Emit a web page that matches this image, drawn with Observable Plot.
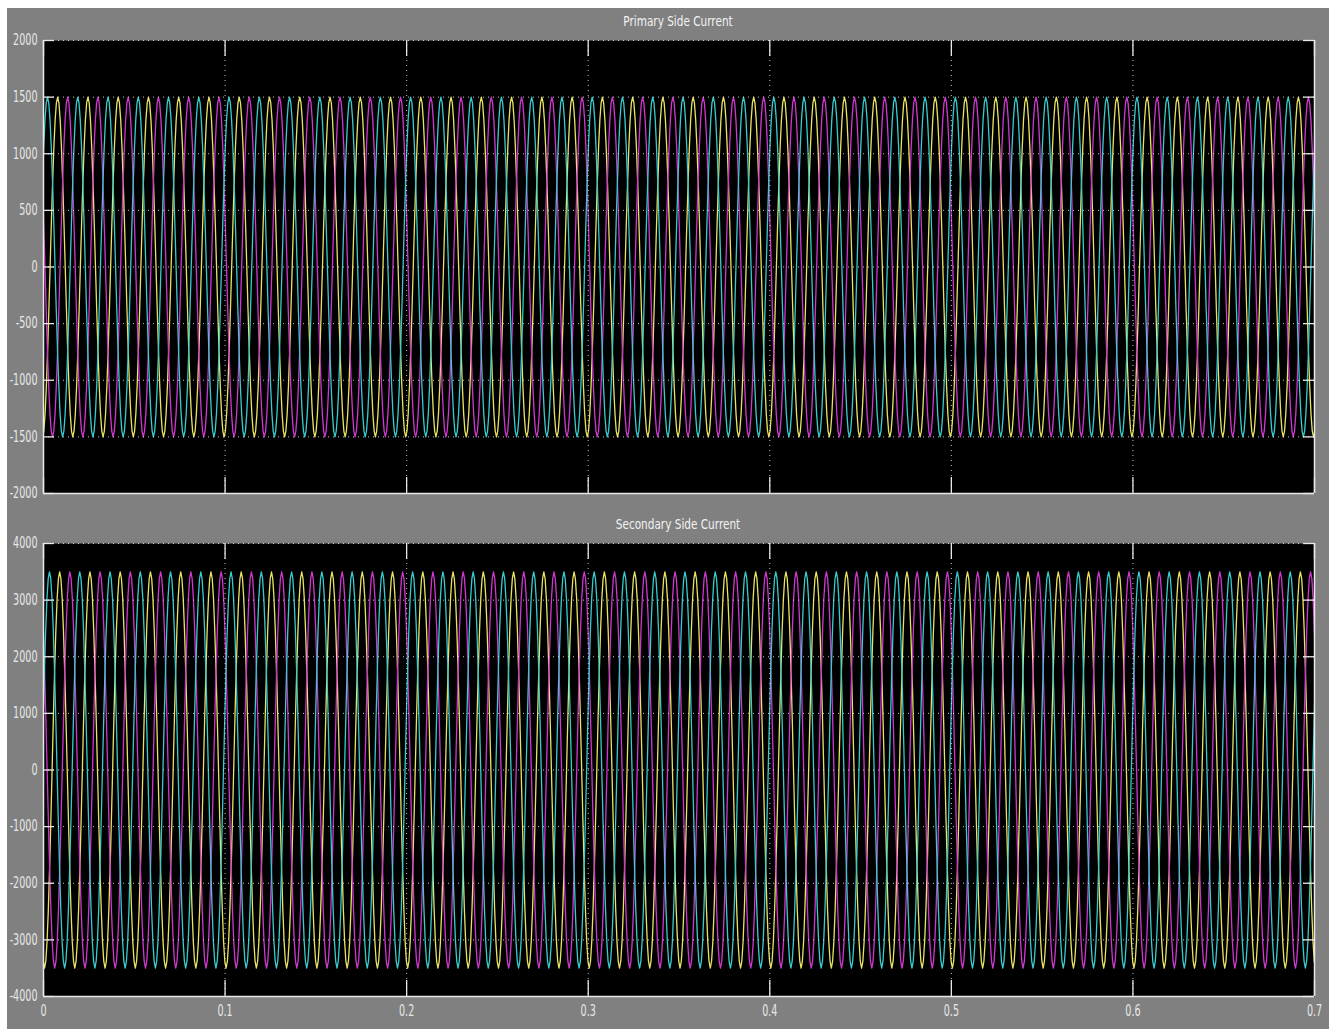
<!DOCTYPE html>
<html>
<head>
<meta charset="utf-8">
<script src="https://cdn.jsdelivr.net/npm/d3@7"></script>
<script src="https://cdn.jsdelivr.net/npm/@observablehq/plot@0.6"></script>
<style>
  html, body { margin: 0; padding: 0; background: #ffffff; width: 1336px; height: 1029px; overflow: hidden; }
  #bg { position: absolute; left: 7px; top: 8px; width: 1322px; height: 1021px; background: #808080; }
  .title { position: absolute; left: 0; width: 1356px; text-align: center; color: #f2f2f2;
           font-family: "DejaVu Sans", sans-serif; font-size: 14px;
           transform: scaleX(0.75); transform-origin: 678px 0; }
  .panel { position: absolute; left: 0; }
</style>
</head>
<body>
<div id="bg"></div>
<div class="title" style="top:13px">Primary Side Current</div>
<div class="title" style="top:516px">Secondary Side Current</div>
<div class="panel" id="p1" style="top:0px"></div>
<div class="panel" id="p2" style="top:500px"></div>
<script>
// ---------------- data ----------------
const xDomain = [0, 0.7];
const xTicks = [0, 0.1, 0.2, 0.3, 0.4, 0.5, 0.6, 0.7];
const xTickLabels = ["0", "0.1", "0.2", "0.3", "0.4", "0.5", "0.6", "0.7"];

const primaryDomain = [-2000, 2000];
const primaryTicks = [-2000, -1500, -1000, -500, 0, 500, 1000, 1500, 2000];
const secondaryDomain = [-4000, 4000];
const secondaryTicks = [-4000, -3000, -2000, -1000, 0, 1000, 2000, 3000, 4000];

const phaseNames = ["Phase A", "Phase B", "Phase C"];
const frequencyHz = 60;                          // 6 cycles per 0.1 s
const primaryPeakAmps = [1500, 1500, 1500];
const secondaryPeakAmps = [3500, 3500, 3500];
const primaryFirstPeak = [0.0078, 0.0133, 0.0022];   // time of first positive peak (s)
const secondaryFirstPeak = [0.0089, 0.0145, 0.0033];
// one cycle of the waveform, normalised to its peak, 24 samples starting at the peak
const unitCycle = [1, 0.966, 0.866, 0.707, 0.5, 0.259, 0, -0.259, -0.5, -0.707, -0.866, -0.966,
                   -1, -0.966, -0.866, -0.707, -0.5, -0.259, 0, 0.259, 0.5, 0.707, 0.866, 0.966];

// ---------------- build tables ----------------
function buildSeries(peaks, firstPeaks) {
  const rows = [];
  const T = 1 / frequencyHz;
  const n = unitCycle.length;
  phaseNames.forEach((ph, p) => {
    const startCycle = Math.floor((xDomain[0] - firstPeaks[p]) / T) - 1;
    for (let c = startCycle; ; c++) {
      let done = false;
      for (let i = 0; i < n; i++) {
        const t = firstPeaks[p] + (c + i / n) * T;
        rows.push({t, v: peaks[p] * unitCycle[i], phase: ph});
        if (t > xDomain[1] + T) done = true;
      }
      if (done) break;
    }
  });
  return rows;
}

const primaryData = buildSeries(primaryPeakAmps, primaryFirstPeak);
const secondaryData = buildSeries(secondaryPeakAmps, secondaryFirstPeak);

// ---------------- drawing ----------------
const phaseColors = ["#e8e462", "#d038d0", "#38cccc"];
const fontFamily = '"DejaVu Sans", sans-serif';

function condense(svg, factor, size) {
  d3.select(svg).selectAll("g[aria-label$='tick label']").attr("font-size", size);
  d3.select(svg).selectAll("g[aria-label$='tick label'] text").each(function () {
    this.setAttribute("font-size", size);
    const x = +(this.getAttribute("x") || 0);
    const t = this.getAttribute("transform") || "";
    this.setAttribute("transform", `${t} translate(${x},0) scale(${factor},1) translate(${-x},0)`);
  });
  return svg;
}

function panel({data, yDomain, yTicks, height, marginTop, marginBottom, showX}) {
  const innerH = height - marginTop - marginBottom;
  const innerW = 1336 - 43 - 22;
  const axisColor = "#e8e8e8";
  const marks = [
    Plot.frame({fill: "black", stroke: null}),
    Plot.line(data, {x: "t", y: "v", z: "phase", stroke: "phase", strokeWidth: 1.3, clip: true}),
    Plot.gridX(xTicks, {stroke: axisColor, strokeOpacity: 0.85, strokeDasharray: "1,4", strokeWidth: 1}),
    Plot.gridY(yTicks, {stroke: axisColor, strokeOpacity: 0.85, strokeDasharray: "1,4", strokeWidth: 1}),
    // solid box edges (left, right, bottom)
    Plot.ruleX([xDomain[0], xDomain[1]], {stroke: axisColor, strokeWidth: 1.5}),
    Plot.ruleY([yDomain[0]], {stroke: axisColor, strokeWidth: 1.5}),
    // inward ticks
    Plot.tickX(xTicks, {x: d => d, insetTop: innerH - 16, stroke: axisColor, strokeWidth: 1.3}),
    Plot.tickX(xTicks, {x: d => d, insetBottom: innerH - 16, stroke: axisColor, strokeWidth: 1.3}),
    Plot.tickY(yTicks, {y: d => d, insetRight: innerW - 11, stroke: axisColor, strokeWidth: 1.3}),
    Plot.tickY(yTicks, {y: d => d, insetLeft: innerW - 11, stroke: axisColor, strokeWidth: 1.3}),
    Plot.axisY(yTicks, {anchor: "left", tickSize: 0, tickPadding: 6, tickFormat: d => String(d),
                        label: null, fill: axisColor})
  ];
  if (showX) {
    marks.push(Plot.axisX(xTicks, {anchor: "bottom", tickSize: 0, tickPadding: 9,
      tickFormat: (d, i) => xTickLabels[i], label: null, fill: axisColor}));
  }
  const svg = Plot.plot({
    width: 1336, height,
    marginLeft: 43, marginRight: 22, marginTop, marginBottom,
    style: {background: "transparent", color: axisColor, fontFamily, overflow: "visible"},
    x: {domain: xDomain, axis: null},
    y: {domain: yDomain, axis: null},
    color: {domain: phaseNames, range: phaseColors},
    marks
  });
  return condense(svg, 0.64, 15);
}

document.getElementById("p1").appendChild(panel({
  data: primaryData, yDomain: primaryDomain, yTicks: primaryTicks,
  height: 500, marginTop: 40, marginBottom: 7, showX: false
}));
document.getElementById("p2").appendChild(panel({
  data: secondaryData, yDomain: secondaryDomain, yTicks: secondaryTicks,
  height: 529, marginTop: 43, marginBottom: 33, showX: true
}));
</script>
</body>
</html>
